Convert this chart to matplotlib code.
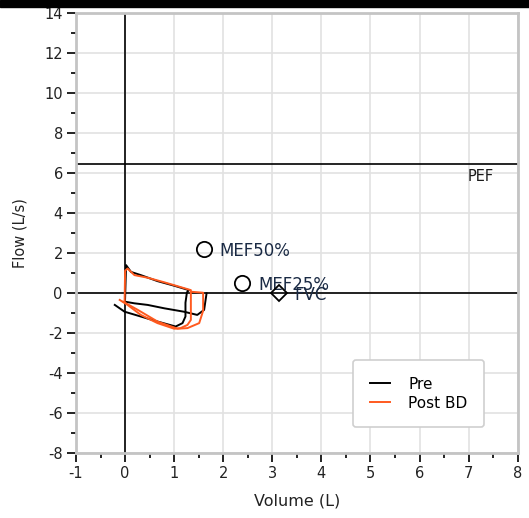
import matplotlib
matplotlib.use('Agg')
import matplotlib.pyplot as plt
from matplotlib.patches import Rectangle
from matplotlib.ticker import MultipleLocator

plt.rcParams['axes.unicode_minus'] = False

# Pre (negro): dos bucles
pre1_vol = [0.0, 0.02, 0.12, 0.32, 0.66, 1.00, 1.30, 1.26, 1.23, 1.23, 1.17, 1.03,
            0.66, 0.32, -0.01, -0.21]
pre1_flow = [-0.30, 1.38, 1.04, 0.88, 0.58, 0.35, 0.13, 0.02, -0.50, -1.19, -1.52, -1.69,
             -1.44, -1.19, -0.95, -0.61]
pre2_vol = [0.0, 0.19, 0.46, 0.80, 1.20, 1.47, 1.61, 1.66]
pre2_flow = [-0.45, -0.53, -0.61, -0.78, -0.95, -1.11, -0.86, -0.03]

# Post BD (naranja)
post1_vol = [-0.01, 0.0, 0.05, 0.19, 0.46, 0.80, 1.34, 1.34, 1.34, 1.27, 1.13, 1.0,
             0.66, 0.32, 0.05, -0.11]
post1_flow = [-0.45, 1.10, 1.21, 0.88, 0.75, 0.52, 0.13, -0.50, -1.36, -1.61, -1.77, -1.80,
              -1.52, -1.11, -0.61, -0.36]
post2_vol = [1.34, 1.59, 1.59, 1.51, 1.27, 1.07, 0.66, 0.26, -0.04]
post2_flow = [0.05, 0.0, -0.90, -1.52, -1.77, -1.80, -1.44, -0.86, -0.45]

pef = 6.44
puntos = ['MEF50%', 'MEF25%', 'FVC']
puntos_vol = [1.60, 2.39, 3.13]
puntos_flow = [2.20, 0.50, 0.0]
puntos_marker = ['o', 'o', 'D']

naranja = '#ff5a1f'
gris = '#c4c4c4'

fig = plt.figure(figsize=(5.29, 5.18), dpi=100)
ax = fig.add_axes([0.1437, 0.126, 0.835, 0.8495])

ax.set_xlim(-1, 8)
ax.set_ylim(-8, 14)
ax.xaxis.set_major_locator(MultipleLocator(1))
ax.xaxis.set_minor_locator(MultipleLocator(0.5))
ax.yaxis.set_major_locator(MultipleLocator(2))
ax.yaxis.set_minor_locator(MultipleLocator(1))
ax.grid(True, which='major', color='#e2e2e2', linewidth=1.2, zorder=0)
ax.set_axisbelow(True)

ax.tick_params(which='major', length=6.5, width=1.4, color='#222222',
               labelsize=10.5, labelcolor='#222222', pad=3)
ax.tick_params(which='minor', length=3.5, width=1.4, color='#222222')
for s in ax.spines.values():
    s.set_color(gris)
    s.set_linewidth(2)

# lineas de referencia
ax.axhline(0, color='black', linewidth=1.2, zorder=2)
ax.axvline(0, color='#222222', linewidth=1.4, zorder=2)
ax.axhline(pef, color='black', linewidth=1.2, zorder=2)
ax.text(6.98, 5.8, 'PEF', fontsize=10.5, color='#1a1a1a', va='center', ha='left')

ax.plot(pre1_vol, pre1_flow, color='black', linewidth=1.4, label='Pre', zorder=3)
ax.plot(pre2_vol, pre2_flow, color='black', linewidth=1.4, zorder=3)
ax.plot(post1_vol, post1_flow, color=naranja, linewidth=1.4, label='Post BD', zorder=4)
ax.plot(post2_vol, post2_flow, color=naranja, linewidth=1.4, zorder=4)

for nombre, v, f, m in zip(puntos, puntos_vol, puntos_flow, puntos_marker):
    ms = 11 if m == 'o' else 8.5
    ax.plot(v, f, marker=m, markersize=ms, markerfacecolor='none',
            markeredgecolor='black', markeredgewidth=1.3, linestyle='none', zorder=5)
    ax.text(v + 0.32, f - 0.1, nombre, fontsize=12, color='#1a2a44',
            va='center', ha='left', zorder=5)

ax.set_xlabel('Volume (L)', fontsize=11.5, color='#222222', labelpad=9)
ax.set_ylabel('Flow (L/s)', fontsize=10.5, color='#222222', labelpad=12)

leg = ax.legend(loc='upper left', bbox_to_anchor=(0.628, 0.211), fontsize=11,
                frameon=True, fancybox=True, edgecolor='#cfcfcf', framealpha=1,
                borderpad=1.1, handlelength=1.3, handletextpad=1.2,
                labelspacing=0.25, borderaxespad=0)
leg.get_frame().set_linewidth(1.2)

# franja negra superior
fig.patches.append(Rectangle((0, 1 - 7 / 518), 1, 7 / 518, transform=fig.transFigure,
                             color='black', zorder=10))

fig.savefig('out.png', dpi=100)
